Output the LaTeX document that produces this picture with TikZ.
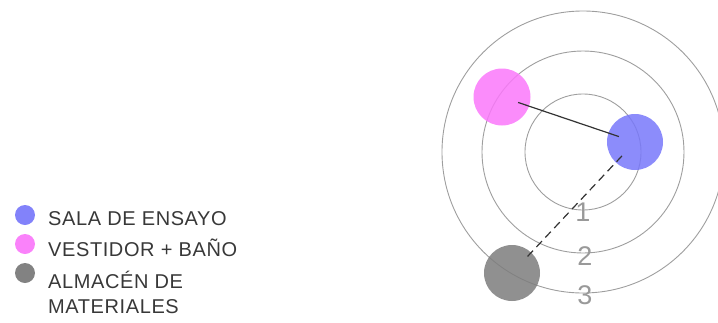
\documentclass[tikz,border=0pt]{standalone}
\usepackage{fontspec}
\setmainfont{Liberation Sans}
\newfontfamily\legfont[LetterSpace=3]{Liberation Sans}
\begin{document}
\begin{tikzpicture}[x=1pt,y=-1pt,
  ring/.style={draw=black!38,line width=0.9pt},
  blob/.style={circle,inner sep=0pt,minimum size=#1,fill opacity=0.85,draw=none},
  dot/.style={circle,inner sep=0pt,minimum size=20pt,draw=none},
  legtext/.style={anchor=west,inner sep=0pt,font=\legfont\fontsize{20}{25}\selectfont,text=black!78,align=left},
  num/.style={font=\fontsize{27}{27}\selectfont,text=black!40,inner sep=0pt},
  link/.style={draw=black!80,line width=1.2pt}]
\useasboundingbox (0,0) rectangle (718,322);
\coordinate (c) at (583,152);
\draw[ring] (c) circle[radius=58];
\draw[ring] (c) circle[radius=101];
\draw[ring] (c) circle[radius=141];
\node[num] (n1) at (583,212) {1};
\node[num] (n2) at (585,256) {2};
\node[num] (n3) at (585,295) {3};
\node[blob=57pt,fill={rgb,255:red,250;green,120;blue,250}] (pink) at (502,97) {};
\node[blob=56pt,fill={rgb,255:red,120;green,120;blue,250}] (blue) at (635,142) {};
\node[blob=56pt,fill={rgb,255:red,125;green,125;blue,125}] (gray) at (512,273) {};
\draw[link,shorten >=17pt,shorten <=17pt] (pink.center) -- (blue.center);
\draw[link,dash pattern=on 8pt off 5pt,shorten >=19pt,shorten <=19pt] (blue.center) -- (gray.center);
\node[dot,fill={rgb,255:red,130;green,130;blue,250}] (d1) at (25,215) {};
\node[dot,fill={rgb,255:red,250;green,130;blue,250}] (d2) at (25,244) {};
\node[dot,fill={rgb,255:red,130;green,130;blue,130}] (d3) at (25,273) {};
\node[legtext] (t1) at (48,219) {SALA DE ENSAYO};
\node[legtext] (t2) at (48,248) {VESTIDOR + BAÑO};
\node[legtext,anchor=north west] (t3) at (48,271) {ALMACÉN DE\\MATERIALES};
\end{tikzpicture}
\end{document}
